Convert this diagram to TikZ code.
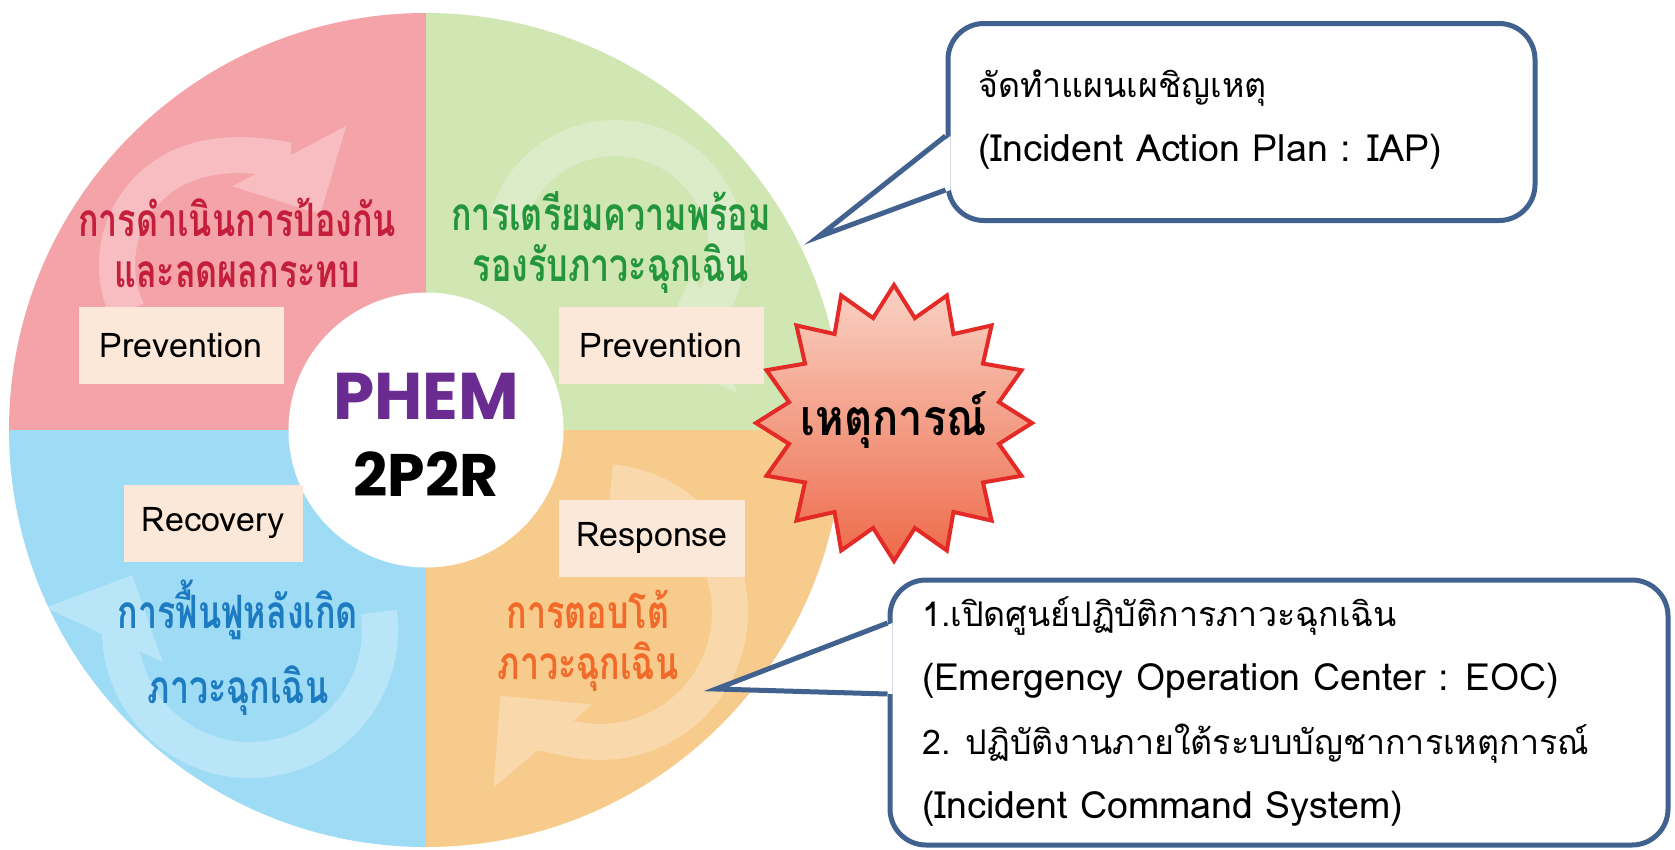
\documentclass[tikz,border=0pt]{standalone}
\usepackage{fontspec}
\setmainfont[Script=Thai]{Loma}
\newfontfamily\titlefont[Script=Thai,FakeStretch=0.74]{Loma}
\newfontfamily\burstfont[Script=Thai,FakeStretch=0.87]{Loma}
\newfontfamily\logofont{Poppins}
\usetikzlibrary{shapes.geometric,arrows.meta,positioning}

\definecolor{qpink}{HTML}{F4A4A8}
\definecolor{qgreen}{HTML}{D0E6B3}
\definecolor{qblue}{HTML}{9EDCF6}
\definecolor{qorange}{HTML}{F7CB8C}
\definecolor{tagfill}{HTML}{FCE8D8}
\definecolor{tred}{HTML}{C41E3A}
\definecolor{tgreen}{HTML}{23963C}
\definecolor{tblue}{HTML}{1D7BC2}
\definecolor{torange}{HTML}{F26A2A}
\definecolor{phem}{HTML}{6A2C91}
\definecolor{startop}{HTML}{F9D2C4}
\definecolor{starmid}{HTML}{F4A48C}
\definecolor{starbot}{HTML}{EE6A4A}
\definecolor{starline}{HTML}{E42A26}
\definecolor{callline}{HTML}{41618E}

\newcommand{\lat}[1]{{\fontsize{37.5}{64}\selectfont #1}}

\begin{document}
\begin{tikzpicture}[x=1pt,y=1pt,
tag/.style={fill=tagfill,minimum height=77pt,inner sep=0pt,font=\fontsize{34}{34}\selectfont},
quadtext/.style={align=center,font=\titlefont\fontsize{46}{51}\selectfont\bfseries},
swirl/.style={draw=white,line width=36pt,-{Triangle[width=125pt,length=66pt]}},
callbox/.style={draw=callline,line width=5pt,rounded corners=36pt,fill=white},
calltext/.style={align=left,anchor=west,inner sep=0pt,font=\fontsize{34}{64}\selectfont}]
\useasboundingbox (0,0) rectangle (1675,-849);
\coordinate (o) at (426,-430);
% quarters of the wheel
\fill[qpink] (o) -- (426,-13) arc[start angle=90,end angle=180,radius=417] -- cycle;
\fill[qgreen] (o) -- (843,-430) arc[start angle=0,end angle=90,radius=417] -- cycle;
\fill[qblue] (o) -- (9,-430) arc[start angle=180,end angle=270,radius=417] -- cycle;
\fill[qorange] (o) -- (426,-847) arc[start angle=270,end angle=360,radius=417] -- cycle;
% faint turning arrows
\begin{scope}[transparency group,opacity=0.28]
\draw[swirl] (225,-265) ++(205:108) arc[start angle=205,end angle=28,radius=108];
\end{scope}
\begin{scope}[transparency group,opacity=0.28]
\draw[swirl] (615,-250) ++(165:112) arc[start angle=165,end angle=-70,radius=112];
\end{scope}
\begin{scope}[transparency group,opacity=0.28]
\draw[swirl] (250,-630) ++(8:130) arc[start angle=8,end angle=-205,radius=130];
\end{scope}
\begin{scope}[transparency group,opacity=0.28]
\draw[swirl] (600,-612) ++(85:130) arc[start angle=85,end angle=-140,radius=130];
\end{scope}
% hub
\node[circle,fill=white,minimum size=275pt,inner sep=0pt] (hub) at (o) {};
\node[inner sep=0pt,text=phem,font=\logofont\fontsize{66}{66}\selectfont\bfseries] (phemname) at (426,-396) {PHEM};
\node[inner sep=0pt,font=\logofont\fontsize{60}{60}\selectfont\bfseries] (code) at (426,-474) {2P2R};
% quarter titles
\node[quadtext,text=tred] (prevtitle) at (237,-243) {การดำเนินการป้องกัน\\และลดผลกระทบ};
\node[quadtext,text=tgreen] (preptitle) at (611,-243) {การเตรียมความพร้อม\\รองรับภาวะฉุกเฉิน};
\node[quadtext,text=tblue,font=\titlefont\fontsize{46}{75}\selectfont\bfseries] (recovtitle) at (238,-648) {การฟื้นฟูหลังเกิด\\ภาวะฉุกเฉิน};
\node[quadtext,text=torange] (resptitle) at (588,-641) {การตอบโต้\\ภาวะฉุกเฉิน};
% tags
\node[tag,minimum width=205pt] (prevtag) at (181,-345) {Prevention};
\node[tag,minimum width=205pt] (preptag) at (661,-345) {Prevention};
\node[tag,minimum width=179pt] (recovtag) at (213,-523) {Recovery};
\node[tag,minimum width=186pt] (resptag) at (652,-538) {Response};
% event burst
\path[draw=starline,line width=4pt,top color=startop,middle color=starmid,bottom color=starbot,shift={(894,-423)}]
  plot[samples at={0,...,31}] ({90+\x*11.25}:{ifthenelse(mod(\x,2)==0,138,107)}) -- cycle;
\node[inner sep=0pt,font=\burstfont\fontsize{50}{50}\selectfont\bfseries] (event) at (894,-420) {เหตุการณ์};
% callouts
\node[callbox,minimum width=587pt,minimum height=197pt] (iap) at (1241.5,-122) {};
\coordinate (iaptip) at (818,-237);
\fill[white] ([xshift=5pt,yshift=-14pt]iap.west) -- (iaptip) -- ([xshift=5pt,yshift=-68pt]iap.west) -- cycle;
\draw[draw=callline,line width=5pt] ([yshift=-14pt]iap.west) -- (iaptip) -- ([yshift=-68pt]iap.west);
\node[calltext] (iaptext) at (978,-120) {จัดทำแผนเผชิญเหตุ\\\lat{(Incident Action Plan : IAP)}};

\node[callbox,minimum width=778pt,minimum height=265pt] (eoc) at (1279,-712.5) {};
\coordinate (eoctip) at (716,-689);
\fill[white] ([xshift=5pt,yshift=89.5pt]eoc.west) -- (eoctip) -- ([xshift=5pt,yshift=18.5pt]eoc.west) -- cycle;
\draw[draw=callline,line width=5pt] ([yshift=89.5pt]eoc.west) -- (eoctip) -- ([yshift=18.5pt]eoc.west);
\node[calltext] (eoctext) at (922,-712) {1.เปิดศูนย์ปฏิบัติการภาวะฉุกเฉิน\\\lat{(Emergency Operation Center : EOC)}\\2. ปฏิบัติงานภายใต้ระบบบัญชาการเหตุการณ์\\\lat{(Incident Command System)}};
\end{tikzpicture}
\end{document}
